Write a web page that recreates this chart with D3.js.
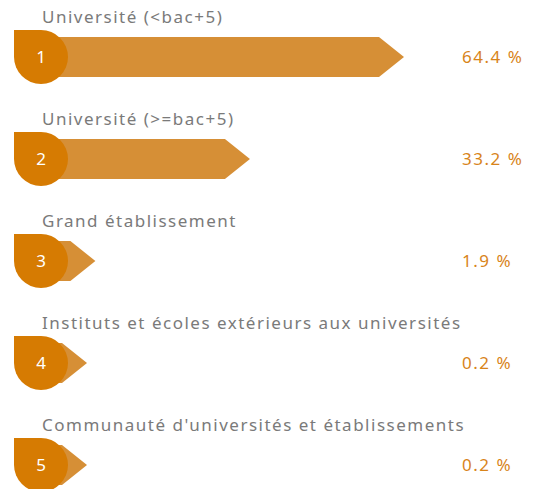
<!DOCTYPE html>
<html>
<head>
<meta charset="utf-8">
<script src="https://cdn.jsdelivr.net/npm/d3@7"></script>
<style>
  html, body { margin: 0; padding: 0; background: #fff; overflow: hidden; }
  svg { display: block; }
</style>
</head>
<body>
<svg id="chart" width="543" height="489"></svg>
<script>
// Répartition des inscrits par type d'établissement
const categories = [
  "Université (<bac+5)",
  "Université (>=bac+5)",
  "Grand établissement",
  "Instituts et écoles extérieurs aux universités",
  "Communauté d'universités et établissements"
];
const ranks = [1, 2, 3, 4, 5];
const shares = [64.4, 33.2, 1.9, 0.2, 0.2];
const shareLabels = ["64.4 %", "33.2 %", "1.9 %", "0.2 %", "0.2 %"];

const FONT = "'Noto Sans', 'DejaVu Sans', sans-serif";
const BADGE = "#d67b02";
const BAR = "#d68f36";
const LABEL = "#7a7a7a";
const VALUE = "#d8841a";

const svg = d3.select("#chart");

const y = d3.scalePoint()
  .domain(d3.range(categories.length))
  .range([57, 465]);

const barStart = 61;
const x = d3.scaleLinear()
  .domain([0, d3.max(shares)])
  .range([barStart, barStart + 318]);

const badgeR = 27, badgeX = 14, barH = 40, tip = 25;

const rows = svg.selectAll("g.row")
  .data(categories.map((c, i) => ({ c, i, v: shares[i], r: ranks[i], lbl: shareLabels[i] })))
  .join("g")
  .attr("class", "row")
  .attr("transform", d => `translate(0,${y(d.i)})`);

// arrow bar, starting under the badge
rows.append("path")
  .attr("fill", BAR)
  .attr("d", d => {
    const x0 = badgeX + badgeR;
    const xe = x(d.v);
    const h = barH / 2;
    return `M${x0},${-h} L${xe},${-h} L${xe + tip},0 L${xe},${h} L${x0},${h} Z`;
  });

// badge: circle with a square top-left corner
rows.append("path")
  .attr("fill", BADGE)
  .attr("d", () => {
    const r = badgeR, x0 = badgeX, cx = badgeX + r;
    return `M${x0},${-r} L${cx},${-r} A${r},${r} 0 1 1 ${x0},0 Z`;
  });

rows.append("text")
  .attr("x", badgeX + badgeR)
  .attr("y", 0)
  .attr("dy", "0.36em")
  .attr("text-anchor", "middle")
  .attr("fill", "#fff")
  .style("font-family", FONT)
  .style("font-size", "17px")
  .text(d => d.r);

rows.append("text")
  .attr("x", 42)
  .attr("y", -34)
  .attr("fill", LABEL)
  .style("font-family", FONT)
  .style("font-size", "17px")
  .style("letter-spacing", "1.5px")
  .text(d => d.c);

rows.append("text")
  .attr("x", 462)
  .attr("y", 0)
  .attr("dy", "0.36em")
  .attr("fill", VALUE)
  .style("font-family", FONT)
  .style("font-size", "17px")
  .style("letter-spacing", "1.5px")
  .text(d => d.lbl);
</script>
</body>
</html>
